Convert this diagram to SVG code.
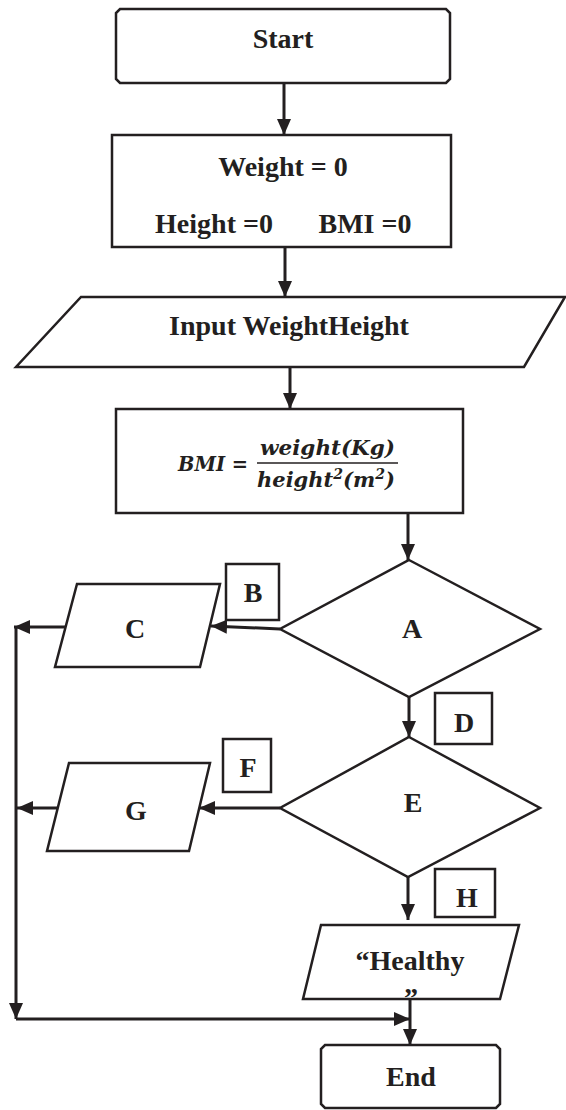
<svg xmlns="http://www.w3.org/2000/svg" width="566" height="1110" viewBox="0 0 566 1110">
<style>
.shape{fill:#fff;stroke:#231f20;stroke-width:2.5;stroke-linejoin:miter}
.conn{fill:none;stroke:#231f20;stroke-width:3}
.t{font-family:"Liberation Serif","Times New Roman",serif;font-weight:bold;font-size:28px;fill:#231f20;text-anchor:middle}
.m{font-family:"DejaVu Serif",serif;font-weight:bold;font-style:italic;font-size:21px;fill:#231f20}
</style>
<defs>
<marker id="ah" markerUnits="userSpaceOnUse" markerWidth="16" markerHeight="14" refX="16" refY="7" orient="auto">
<path d="M0,0 L16,7 L0,14 z" fill="#231f20"/>
</marker>
</defs>
<rect width="566" height="1110" fill="#fff"/>
<g id="connectors">
<path class="conn" d="M284,83 L284,135" marker-end="url(#ah)"/>
<path class="conn" d="M285,247 L285,297" marker-end="url(#ah)"/>
<path class="conn" d="M290,367 L290,409" marker-end="url(#ah)"/>
<path class="conn" d="M408,513 L408,560" marker-end="url(#ah)"/>
<path class="conn" d="M280,629 L211,626" marker-end="url(#ah)"/>
<path class="conn" d="M66,627 L14,627" marker-end="url(#ah)"/>
<path class="conn" d="M16,627 L16,1019" marker-end="url(#ah)"/>
<path class="conn" d="M409,697 L409,737" marker-end="url(#ah)"/>
<path class="conn" d="M280,808 L199,808" marker-end="url(#ah)"/>
<path class="conn" d="M58,808 L17,808" marker-end="url(#ah)"/>
<path class="conn" d="M408,877 L408,920" marker-end="url(#ah)"/>
<path class="conn" d="M16,1019 L410,1019" marker-end="url(#ah)"/>
<path class="conn" d="M410,999 L410,1045" marker-end="url(#ah)"/>
</g>
<g id="start">
<path class="shape" d="M120,9 L446,9 L450,13 L450,79 L446,83 L120,83 L116,79 L116,13 Z"/>
<text class="t" x="283" y="48">Start</text>
</g>
<g id="init">
<rect class="shape" x="112" y="135" width="339" height="112"/>
<text class="t" x="283" y="176">Weight = 0</text>
<text class="t" x="214" y="233">Height =0</text>
<text class="t" x="365" y="233">BMI =0</text>
</g>
<g id="input">
<path class="shape" d="M81,297 L565,297 L524,367 L16,367 Z"/>
<text class="t" x="289" y="335">Input WeightHeight</text>
</g>
<g id="calc">
<rect class="shape" x="116" y="409" width="347" height="104"/>
<text class="m" x="178" y="471" textLength="70" lengthAdjust="spacingAndGlyphs">BMI =</text>
<text class="m" x="260" y="455" textLength="135" lengthAdjust="spacingAndGlyphs">weight(Kg)</text>
<line x1="257" y1="463" x2="398" y2="463" stroke="#231f20" stroke-width="1.5"/>
<text class="m" x="257" y="487">height<tspan font-size="14" dy="-8">2</tspan><tspan dy="8">(m</tspan><tspan font-size="14" dy="-8">2</tspan><tspan dy="8">)</tspan></text>
</g>
<g id="A">
<path class="shape" d="M409,560 L540,629 L409,697 L280,629 Z"/>
<text class="t" x="412" y="638">A</text>
</g>
<g id="B">
<rect class="shape" x="226" y="564" width="53" height="56"/>
<text class="t" x="253" y="602">B</text>
</g>
<g id="C">
<path class="shape" d="M77,584 L220,584 L200,667 L55,667 Z"/>
<text class="t" x="135" y="638">C</text>
</g>
<g id="D">
<rect class="shape" x="435" y="693" width="57" height="51"/>
<text class="t" x="464" y="732">D</text>
</g>
<g id="E">
<path class="shape" d="M409,737 L540,808 L408,877 L280,808 Z"/>
<text class="t" x="413" y="812">E</text>
</g>
<g id="F">
<rect class="shape" x="223" y="739" width="48" height="53"/>
<text class="t" x="248" y="777">F</text>
</g>
<g id="G">
<path class="shape" d="M69,763 L210,763 L189,851 L47,851 Z"/>
<text class="t" x="136" y="820">G</text>
</g>
<g id="H">
<rect class="shape" x="435" y="869" width="60" height="48"/>
<text class="t" x="467" y="907">H</text>
</g>
<g id="healthy">
<path class="shape" d="M321,925 L519,925 L500,999 L303,999 Z"/>
<text class="t" x="410" y="970">“Healthy</text>
<text class="t" x="411" y="1007">”</text>
</g>
<g id="end">
<path class="shape" d="M325,1045 L496,1045 L500,1049 L500,1104 L496,1108 L325,1108 L321,1104 L321,1049 Z"/>
<text class="t" x="411" y="1086">End</text>
</g>
</svg>
